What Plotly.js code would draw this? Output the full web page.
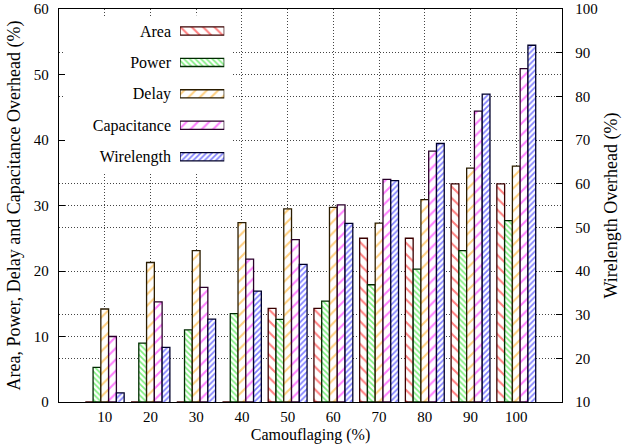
<!DOCTYPE html>
<html><head><meta charset="utf-8">
<script src="https://cdn.plot.ly/plotly-3.0.1.min.js"></script>
<style>html,body{margin:0;padding:0;background:#fff}#chart{width:622px;height:446px}</style>
</head><body><div id="chart"></div>
<script>
// ---- data ----
const camouflaging = [10, 20, 30, 40, 50, 60, 70, 80, 90, 100];
const xTickLabels = ['10', '20', '30', '40', '50', '60', '70', '80', '90', '100'];
const seriesNames = ['Area', 'Power', 'Delay', 'Capacitance', 'Wirelength'];
const areaOverhead = [0, 0, 0, 0, 14.3, 14.3, 25.0, 25.0, 33.3, 33.3];
const powerOverhead = [5.3, 9.0, 11.0, 13.5, 12.6, 15.4, 17.9, 20.3, 23.1, 27.7];
const delayOverhead = [14.2, 21.3, 23.1, 27.4, 29.5, 29.7, 27.3, 30.9, 35.7, 36.0];
const capacitanceOverhead = [10.0, 15.3, 17.5, 21.8, 24.8, 30.1, 34.0, 38.3, 44.4, 50.9];
const wirelengthOverhead = [12.1, 22.5, 29.0, 35.4, 41.5, 50.9, 60.7, 69.2, 80.5, 91.7];

// ---- styles ----
const seriesValues = [areaOverhead, powerOverhead, delayOverhead, capacitanceOverhead, wirelengthOverhead];
const seriesAxis = ['y', 'y', 'y', 'y', 'y2'];
const hatchColor = ['#ff0000', '#00dd00', '#ffa000', '#ff00ff', '#0000ff'];
const edgeColor = ['#3a0000', '#002a00', '#2a1c00', '#2a002a', '#00002a'];
const hatchShape = ['\\', '\\', '/', '/', '/'];
const hatchSize = [8, 4, 8, 8, 4];
const hatchSolidity = [0.26, 0.42, 0.26, 0.26, 0.42];
const barWidth = 1.7;
const font = "'Liberation Serif', 'Times New Roman', Times, serif";
const gridStyle = {showgrid: true, gridcolor: '#444', gridwidth: 1, griddash: '1px,2px'};

const traces = seriesNames.map((name, i) => ({
  type: 'bar', name: name,
  x: camouflaging, y: seriesValues[i],
  xaxis: 'x', yaxis: seriesAxis[i],
  width: barWidth, offset: -2.5 * barWidth + i * barWidth,
  marker: {
    color: 'white',
    line: {color: edgeColor[i], width: 1.3},
    pattern: {shape: hatchShape[i], fgcolor: hatchColor[i], bgcolor: 'white',
              size: hatchSize[i], solidity: hatchSolidity[i], fillmode: 'overlay'}
  },
  hoverinfo: 'skip', showlegend: false
}));

// gnuplot-style key: swatches drawn on their own small axis, names as its tick labels
traces.push({
  type: 'bar', orientation: 'h',
  x: seriesNames.map(() => 1), y: seriesNames,
  xaxis: 'x3', yaxis: 'y3', width: 0.26, base: 0,
  marker: {
    color: 'white',
    line: {color: edgeColor, width: 1.3},
    pattern: {shape: hatchShape, fgcolor: hatchColor, bgcolor: 'white',
              size: hatchSize, solidity: hatchSolidity, fillmode: 'overlay'}
  },
  hoverinfo: 'skip', showlegend: false
});

const layout = {
  width: 622, height: 446,
  margin: {l: 59, r: 60, t: 9, b: 44},
  paper_bgcolor: 'white', plot_bgcolor: 'white',
  font: {family: font, size: 15, color: '#000'},
  showlegend: false, barmode: 'overlay',
  xaxis: Object.assign({
    range: [0, 110], tickvals: camouflaging, ticktext: xTickLabels,
    ticks: '', showline: true, linecolor: '#000', linewidth: 1.3, mirror: true,
    zeroline: false, ticklabelstandoff: 1,
    title: {text: 'Camouflaging (%)', font: {family: font, size: 16}, standoff: 4}
  }, gridStyle),
  yaxis: Object.assign({
    range: [0, 60], tick0: 0, dtick: 10,
    ticks: 'inside', ticklen: 6, tickcolor: '#000', tickwidth: 1,
    showline: true, linecolor: '#000', linewidth: 1.3,
    zeroline: false, ticklabelstandoff: 6,
    title: {text: 'Area, Power, Delay and Capacitance Overhead (%)', font: {family: font, size: 18}, standoff: 8}
  }, gridStyle),
  yaxis2: Object.assign({
    overlaying: 'y', side: 'right',
    range: [10, 100], tick0: 10, dtick: 10,
    ticks: 'inside', ticklen: 6, tickcolor: '#000', tickwidth: 1,
    showline: true, linecolor: '#000', linewidth: 1.3,
    zeroline: false, ticklabelstandoff: 9,
    title: {text: 'Wirelength Overhead (%)', font: {family: font, size: 18}, standoff: 10}
  }, gridStyle),
  xaxis3: {domain: [0.2406, 0.3286], anchor: 'y3', range: [0, 1], visible: false, fixedrange: true},
  yaxis3: {domain: [0.5842, 0.984], anchor: 'x3', type: 'category', autorange: 'reversed',
           showgrid: false, zeroline: false, showline: false, ticks: '',
           tickfont: {family: font, size: 16}, ticklabelstandoff: 8, fixedrange: true},
  shapes: [{
    type: 'rect', xref: 'x', yref: 'y', layer: 'between',
    x0: 1.3, x1: 38.0, y0: 35.1, y1: 58.9,
    fillcolor: 'white', line: {width: 0}
  }]
};

Plotly.newPlot('chart', traces, layout, {staticPlot: true, displayModeBar: false});
</script>
</body></html>
